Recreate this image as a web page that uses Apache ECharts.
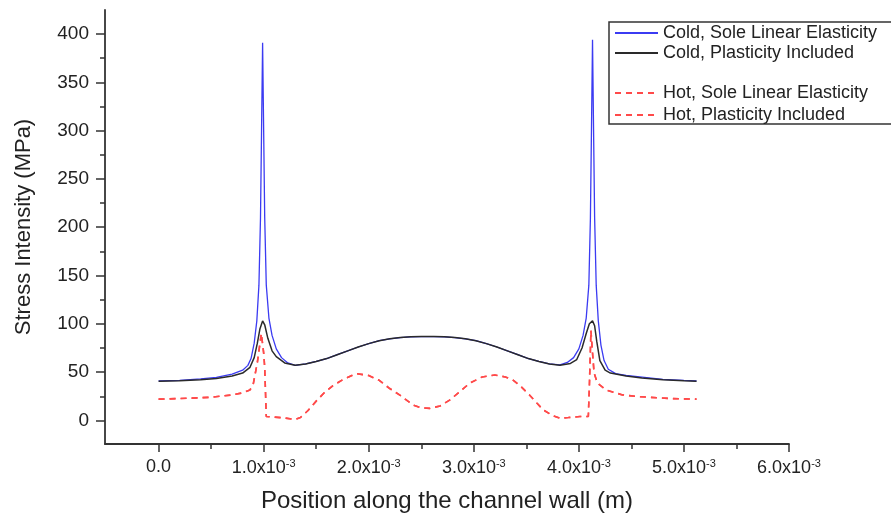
<!DOCTYPE html>
<html>
<head>
<meta charset="utf-8">
<script src="https://cdn.jsdelivr.net/npm/echarts@6/dist/echarts.min.js"></script>
<style>
  html, body { margin: 0; padding: 0; background: #fff; }
  #main { width: 891px; height: 518px; }
</style>
</head>
<body>
<div id="main"></div>
<script>
// positions in metres, stress in MPa
var coldElastic = [
  [0, 41], [0.2e-3, 41.5], [0.4e-3, 43], [0.55e-3, 44.5], [0.7e-3, 48], [0.8e-3, 52],
  [0.85e-3, 57], [0.88e-3, 64], [0.91e-3, 80], [0.935e-3, 103], [0.955e-3, 140], [0.97e-3, 210],
  [0.98e-3, 300], [0.99e-3, 391], [1.0e-3, 300], [1.01e-3, 210], [1.025e-3, 140], [1.05e-3, 106],
  [1.08e-3, 88], [1.12e-3, 74], [1.17e-3, 65], [1.23e-3, 59.5], [1.3e-3, 57],
  [1.4e-3, 58.5], [1.5e-3, 61], [1.6e-3, 64], [1.7e-3, 68], [1.8e-3, 72], [1.9e-3, 76],
  [2.0e-3, 79.5], [2.1e-3, 82.5], [2.2e-3, 84.5], [2.3e-3, 85.8], [2.4e-3, 86.5], [2.5e-3, 86.8],
  [2.62e-3, 86.8], [2.72e-3, 86.5], [2.82e-3, 85.8], [2.92e-3, 84.5], [3.02e-3, 82.5],
  [3.12e-3, 79.5], [3.22e-3, 76], [3.32e-3, 72], [3.42e-3, 68], [3.52e-3, 64], [3.62e-3, 61],
  [3.72e-3, 58.5], [3.82e-3, 57.5], [3.89e-3, 60], [3.95e-3, 65], [4.0e-3, 74], [4.04e-3, 88],
  [4.07e-3, 106], [4.095e-3, 140], [4.11e-3, 210], [4.12e-3, 300], [4.13e-3, 394], [4.14e-3, 300],
  [4.15e-3, 210], [4.165e-3, 140], [4.185e-3, 103], [4.21e-3, 78], [4.24e-3, 62], [4.28e-3, 53],
  [4.35e-3, 48.5], [4.45e-3, 46.5], [4.58e-3, 45], [4.8e-3, 42.5], [5.0e-3, 41.5], [5.12e-3, 41]
];
var coldPlastic = [
  [0, 40.5], [0.2e-3, 41], [0.4e-3, 42], [0.55e-3, 43.5], [0.7e-3, 46], [0.8e-3, 49],
  [0.87e-3, 55], [0.91e-3, 65], [0.94e-3, 80], [0.965e-3, 95], [0.99e-3, 103], [1.01e-3, 99],
  [1.04e-3, 85], [1.08e-3, 72], [1.12e-3, 66], [1.2e-3, 59.5], [1.3e-3, 57],
  [1.4e-3, 58.5], [1.5e-3, 61], [1.6e-3, 64], [1.7e-3, 68], [1.8e-3, 72], [1.9e-3, 76],
  [2.0e-3, 79.5], [2.1e-3, 82.5], [2.2e-3, 84.5], [2.3e-3, 85.8], [2.4e-3, 86.5], [2.5e-3, 86.8],
  [2.62e-3, 86.8], [2.72e-3, 86.5], [2.82e-3, 85.8], [2.92e-3, 84.5], [3.02e-3, 82.5],
  [3.12e-3, 79.5], [3.22e-3, 76], [3.32e-3, 72], [3.42e-3, 68], [3.52e-3, 64], [3.62e-3, 61],
  [3.72e-3, 58.5], [3.82e-3, 57], [3.92e-3, 59], [3.98e-3, 63], [4.03e-3, 75], [4.07e-3, 90],
  [4.1e-3, 100], [4.13e-3, 103], [4.15e-3, 98], [4.17e-3, 82], [4.2e-3, 62], [4.25e-3, 52],
  [4.3e-3, 49], [4.45e-3, 46], [4.6e-3, 44], [4.8e-3, 42], [5.0e-3, 41], [5.12e-3, 40.5]
];
var hotElastic = [
  [0, 22], [0.3e-3, 23], [0.5e-3, 24], [0.7e-3, 26.4], [0.8e-3, 28.5], [0.87e-3, 31.6],
  [0.9e-3, 37], [0.94e-3, 60], [0.978e-3, 90], [1.0e-3, 70], [1.01e-3, 55], [1.025e-3, 4],
  [1.1e-3, 3.5], [1.2e-3, 2.5], [1.3e-3, 1], [1.35e-3, 3], [1.42e-3, 10], [1.5e-3, 20],
  [1.58e-3, 29], [1.66e-3, 36], [1.75e-3, 42], [1.88e-3, 48.5], [2.0e-3, 46.5], [2.1e-3, 41.5],
  [2.2e-3, 33], [2.3e-3, 26], [2.42e-3, 16], [2.5e-3, 13], [2.58e-3, 12.5], [2.68e-3, 15],
  [2.77e-3, 21], [2.87e-3, 30], [2.96e-3, 38.5], [3.08e-3, 45], [3.2e-3, 47], [3.3e-3, 45],
  [3.37e-3, 42], [3.45e-3, 35], [3.53e-3, 26.4], [3.6e-3, 18], [3.66e-3, 11], [3.75e-3, 5],
  [3.82e-3, 2.3], [3.9e-3, 3], [4.01e-3, 4], [4.09e-3, 4], [4.1e-3, 35], [4.115e-3, 93],
  [4.13e-3, 70], [4.145e-3, 49], [4.177e-3, 38.5], [4.257e-3, 31.6], [4.416e-3, 26.4],
  [4.57e-3, 24.6], [4.89e-3, 22.6], [5.12e-3, 22]
];
// the two hot curves coincide in the figure
var hotPlastic = hotElastic;

var xTicks = [0, 1e-3, 2e-3, 3e-3, 4e-3, 5e-3, 6e-3];
var xMinorTicks = [0.5e-3, 1.5e-3, 2.5e-3, 3.5e-3, 4.5e-3, 5.5e-3];
var yTicks = [0, 50, 100, 150, 200, 250, 300, 350, 400];
var yMinorTicks = [25, 75, 125, 175, 225, 275, 325, 375];

var FONT = '"Liberation Sans", Arial, sans-serif';
var INK = '#333';

var myChart = echarts.init(document.getElementById('main'));

function xLabel(v) {
  var n = (v * 1000).toFixed(1);
  if (n === '0.0') return '0.0';
  return n + 'x10{s|-3}';
}

var legendBase = {
  orient: 'vertical', left: 614, padding: 0,
  itemWidth: 43, itemHeight: 14,
  itemStyle: { opacity: 0 },
  textStyle: { fontSize: 18, lineHeight: 18, color: '#222', fontFamily: FONT }
};

var option = {
  animation: false,
  textStyle: { fontFamily: FONT },
  grid: { left: 105, right: 102, top: 10, bottom: 74 },
  legend: [
    Object.assign({}, legendBase, {
      data: ['Cold, Sole Linear Elasticity', 'Cold, Plasticity Included'],
      top: 24, itemGap: 2
    }),
    Object.assign({}, legendBase, {
      data: ['Hot, Sole Linear Elasticity', 'Hot, Plasticity Included'],
      top: 84, itemGap: 4
    })
  ],
  // legend frame, runs off the right edge like the original
  graphic: [{
    type: 'rect', z: 0,
    shape: { x: 609, y: 22, width: 320, height: 102 },
    style: { fill: 'none', stroke: INK, lineWidth: 1.5 }
  }],
  xAxis: [
    {
      type: 'value', min: -0.51e-3, max: 6e-3,
      name: 'Position along the channel wall (m)', nameLocation: 'middle', nameGap: 45,
      nameTextStyle: { fontSize: 24, color: '#222', fontFamily: FONT },
      axisLine: { onZero: false, lineStyle: { color: INK, width: 1.8 } },
      axisTick: { customValues: xTicks, length: 8, lineStyle: { color: INK, width: 1.5 } },
      axisLabel: {
        customValues: xTicks, margin: 14, fontSize: 18, color: '#222', formatter: xLabel,
        rich: { s: { fontSize: 11, verticalAlign: 'top', padding: [0, 0, 10, 0], color: '#222' } }
      },
      splitLine: { show: false }
    },
    {
      type: 'value', min: -0.51e-3, max: 6e-3, position: 'bottom',
      axisLine: { show: false, onZero: false },
      axisTick: { customValues: xMinorTicks, length: 5, lineStyle: { color: INK, width: 1.5 } },
      axisLabel: { show: false },
      splitLine: { show: false }
    }
  ],
  yAxis: [
    {
      type: 'value', min: -24.4, max: 424.8,
      name: 'Stress Intensity (MPa)', nameLocation: 'middle', nameGap: 70,
      nameTextStyle: { fontSize: 22, color: '#222', fontFamily: FONT },
      axisLine: { show: true, onZero: false, lineStyle: { color: INK, width: 1.8 } },
      axisTick: { show: true, customValues: yTicks, length: 9, lineStyle: { color: INK, width: 1.5 } },
      axisLabel: { customValues: yTicks, margin: 16, fontSize: 19, color: '#222' },
      splitLine: { show: false }
    },
    {
      type: 'value', min: -24.4, max: 424.8, position: 'left', offset: 0,
      axisLine: { show: false, onZero: false },
      axisTick: { show: true, customValues: yMinorTicks, length: 5, lineStyle: { color: INK, width: 1.5 } },
      axisLabel: { show: false },
      splitLine: { show: false }
    }
  ],
  series: [
    {
      name: 'Cold, Sole Linear Elasticity', type: 'line', data: coldElastic,
      symbol: 'none', color: '#3b3bf2', lineStyle: { width: 1.3 }, z: 3
    },
    {
      name: 'Cold, Plasticity Included', type: 'line', data: coldPlastic,
      symbol: 'none', color: '#2a2a2a', lineStyle: { width: 1.5 }, z: 4
    },
    {
      name: 'Hot, Sole Linear Elasticity', type: 'line', data: hotElastic,
      symbol: 'none', color: '#ff4a4a', lineStyle: { width: 1.6, type: [6, 5] }, z: 2
    },
    {
      name: 'Hot, Plasticity Included', type: 'line', data: hotPlastic,
      symbol: 'none', color: '#ff4a4a', lineStyle: { width: 1.6, type: [6, 5] }, z: 2
    }
  ]
};

myChart.setOption(option);
</script>
</body>
</html>
